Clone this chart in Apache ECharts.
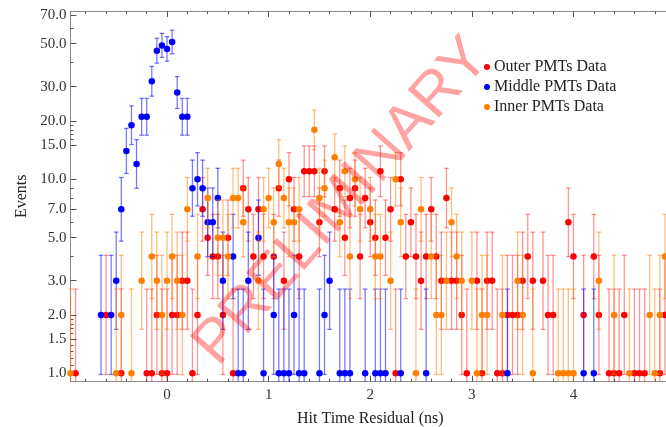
<!DOCTYPE html>
<html>
<head>
<meta charset="utf-8">
<script src="https://cdn.jsdelivr.net/npm/echarts@6.0.0/dist/echarts.min.js"></script>
<style>
  html, body { margin: 0; padding: 0; background: #ffffff; }
  #chart { width: 666px; height: 427px; }
</style>
</head>
<body>
<div id="chart"></div>
<script>
// Hit time residual histograms, [time (ns), events] per 0.05 ns bin
const outerData = [
  [-0.90,1],[-0.60,2],[-0.45,1],[-0.20,1],[-0.15,1],[-0.10,2],[-0.05,1],[0.00,1],
  [0.05,2],[0.10,2],[0.15,3],[0.20,3],[0.25,1],[0.30,2],[0.35,7],[0.40,5],[0.45,4],
  [0.50,4],[0.55,2],[0.60,5],[0.65,1],[0.75,9],[0.80,7],[0.85,4],[0.90,7],[0.95,4],
  [1.05,4],[1.10,9],[1.15,3],[1.20,10],[1.25,7],[1.30,4],[1.35,11],[1.40,11],[1.45,11],
  [1.50,6],[1.55,11],[1.65,7],[1.70,9],[1.75,5],[1.80,8],[1.85,9],[1.90,4],[1.95,8],
  [2.00,6],[2.05,5],[2.10,11],[2.15,5],[2.20,7],[2.25,1],[2.30,10],[2.35,4],[2.40,6],
  [2.45,4],[2.50,3],[2.55,4],[2.60,7],[2.65,4],[2.70,3],[2.75,8],[2.80,3],[2.85,3],
  [2.90,2],[2.95,1],[3.05,3],[3.10,1],[3.15,3],[3.20,3],[3.25,1],[3.30,1],[3.35,2],
  [3.40,2],[3.45,2],[3.50,3],[3.55,4],[3.60,3],[3.70,3],[3.75,2],[3.80,2],[3.95,6],
  [4.00,4],[4.10,2],[4.20,4],[4.25,2],[4.35,1],[4.40,1],[4.45,1],[4.50,2],[4.60,1],
  [4.65,1],[4.70,1],[4.85,1],[4.90,2]
];
const middleData = [
  [-0.65,2],[-0.55,2],[-0.50,3],[-0.45,7],[-0.40,14],[-0.35,19],[-0.30,12],[-0.25,21],
  [-0.20,21],[-0.15,32],[-0.10,46],[-0.05,49],[0.00,47],[0.05,51],[0.10,28],[0.15,21],
  [0.20,21],[0.25,9],[0.30,10],[0.35,9],[0.40,6],[0.45,6],[0.50,8],[0.55,3],[0.65,4],
  [0.70,1],[0.75,1],[0.80,3],[0.90,5],[0.95,1],[1.05,2],[1.10,1],[1.15,1],[1.20,1],
  [1.25,2],[1.30,1],[1.35,1],[1.50,1],[1.55,2],[1.60,3],[1.70,1],[1.75,1],[1.80,1],
  [1.95,1],[2.05,1],[2.10,1],[2.15,1],[2.30,1],[2.55,1],[3.35,1],[4.10,1],[4.20,1]
];
const innerData = [
  [-0.95,1],[-0.50,1],[-0.45,2],[-0.35,1],[-0.25,3],[-0.15,4],[-0.10,3],[-0.05,2],
  [0.00,3],[0.05,4],[0.10,3],[0.15,2],[0.20,7],[0.30,4],[0.40,8],[0.50,5],[0.55,5],
  [0.60,4],[0.65,8],[0.70,8],[0.75,6],[0.90,3],[0.95,7],[1.00,8],[1.05,6],[1.10,12],
  [1.15,8],[1.20,6],[1.25,6],[1.30,7],[1.45,18],[1.50,8],[1.55,9],[1.65,13],[1.70,6],
  [1.75,11],[1.80,4],[1.85,10],[1.90,7],[2.00,7],[2.05,4],[2.10,4],[2.20,3],[2.25,10],
  [2.30,6],[2.45,1],[2.50,7],[2.60,4],[2.65,2],[2.70,2],[2.75,3],[2.80,6],[2.85,4],
  [2.90,3],[3.00,3],[3.05,1],[3.10,2],[3.15,2],[3.30,2],[3.45,3],[3.50,2],[3.60,1],
  [3.85,1],[3.90,1],[3.95,1],[4.00,1],[4.25,3],[4.40,2],[4.55,1],[4.75,2],[4.80,1],
  [4.85,2],[4.90,4]
];

const seriesNames = ['Outer PMTs Data', 'Middle PMTs Data', 'Inner PMTs Data'];
const xLabelTicks = [0, 1, 2, 3, 4];
const xMinorTicks = [-0.8,-0.6,-0.4,-0.2,0.2,0.4,0.6,0.8,1.2,1.4,1.6,1.8,2.2,2.4,2.6,2.8,
                     3.2,3.4,3.6,3.8,4.2,4.4,4.6,4.8];
const yLabelTicks = [1, 1.5, 2, 3, 5, 7, 10, 15, 20, 30, 50, 70];
const yMinorTicks = [1.1,1.2,1.3,1.4,1.6,1.7,1.8,1.9,4,6,8,9,16,17,18,19,40,60];

const X_MIN = -0.95, X_MAX = 4.95;
const Y_MIN = 0.905, Y_MAX = 73.7;

const SERIF = '"Liberation Serif", "DejaVu Serif", serif';
const FRAME = '#8c8c8c';

const dotColors = ['#ff0000', '#0000ff', '#ff8000'];
const barColors = ['rgba(255,0,0,0.42)', 'rgba(0,0,255,0.52)', 'rgba(255,128,0,0.5)'];

// counting error shown as a band of ±1/sqrt(N) in ln(N)
function withErrors(data) {
  return data.map(function (d) {
    const s = 1 / Math.sqrt(d[1]);
    return [d[0], d[1] * Math.exp(-s), d[1] * Math.exp(s)];
  });
}

function errorBarRenderer(color) {
  return function (params, api) {
    const x = api.value(0);
    const lo = api.value(1);
    const hi = api.value(2);
    const clipped = lo < Y_MIN;
    const pLo = api.coord([x, clipped ? Y_MIN : lo]);
    const pHi = api.coord([x, Math.min(hi, Y_MAX)]);
    const cap = 2.3;
    const style = { stroke: color, lineWidth: 1.3, fill: null };
    const children = [
      { type: 'line', shape: { x1: pLo[0], y1: pLo[1], x2: pHi[0], y2: pHi[1] }, style: style },
      { type: 'line', shape: { x1: pHi[0] - cap, y1: pHi[1], x2: pHi[0] + cap, y2: pHi[1] }, style: style }
    ];
    if (!clipped) {
      children.push({ type: 'line', shape: { x1: pLo[0] - cap, y1: pLo[1], x2: pLo[0] + cap, y2: pLo[1] }, style: style });
    }
    return { type: 'group', children: children };
  };
}

const datasets = [outerData, middleData, innerData];
const series = [];
datasets.forEach(function (data, i) {
  series.push({
    name: seriesNames[i] + ' error',
    type: 'custom',
    xAxisIndex: 0,
    yAxisIndex: 0,
    renderItem: errorBarRenderer(barColors[i]),
    encode: { x: 0, y: [1, 2] },
    data: withErrors(data),
    silent: true,
    z: 2 + i * 2
  });
  series.push({
    name: seriesNames[i],
    type: 'scatter',
    xAxisIndex: 0,
    yAxisIndex: 0,
    symbol: 'circle',
    symbolSize: 6.5,
    itemStyle: { color: dotColors[i], opacity: 1 },
    data: data,
    z: 3 + i * 2
  });
});

function xAxisDef(position, ticks, len, labels, line) {
  return {
    type: 'value', position: position, min: X_MIN, max: X_MAX,
    axisLine: { show: line, onZero: false, lineStyle: { color: FRAME, width: 1 } },
    axisTick: { show: true, inside: true, length: len, customValues: ticks, lineStyle: { color: '#555', width: 1 } },
    axisLabel: labels ? { show: true, customValues: xLabelTicks, margin: 6, color: '#333',
                          fontFamily: SERIF, fontSize: 15, formatter: function (v) { return String(v); } }
                      : { show: false },
    splitLine: { show: false }
  };
}

function yAxisDef(ticks, len, labels, line) {
  return {
    type: 'log', position: 'left', min: Y_MIN, max: Y_MAX, logBase: 10,
    axisLine: { show: line, onZero: false, lineStyle: { color: FRAME, width: 1 } },
    axisTick: { show: true, inside: true, length: len, customValues: ticks, lineStyle: { color: '#555', width: 1 } },
    axisLabel: labels ? { show: true, customValues: yLabelTicks, margin: 4, color: '#333',
                          fontFamily: SERIF, fontSize: 15, formatter: function (v) { return Number(v).toFixed(1); } }
                      : { show: false },
    splitLine: { show: false },
    minorTick: { show: false },
    name: labels ? 'Events' : '',
    nameLocation: 'middle',
    nameGap: 32,
    nameTextStyle: { fontFamily: SERIF, fontSize: 16, color: '#222' }
  };
}

const xAxes = [
  xAxisDef('bottom', xLabelTicks, 6, true, true),
  xAxisDef('bottom', xMinorTicks, 3, false, false),
  xAxisDef('top', xLabelTicks, 6, false, true),
  xAxisDef('top', xMinorTicks, 3, false, false)
];
xAxes[0].name = 'Hit Time Residual (ns)';
xAxes[0].nameLocation = 'middle';
xAxes[0].nameGap = 29;
xAxes[0].nameTextStyle = { fontFamily: SERIF, fontSize: 16, color: '#222' };

const chart = echarts.init(document.getElementById('chart'), null, { renderer: 'canvas' });
chart.setOption({
  animation: false,
  backgroundColor: '#ffffff',
  grid: { left: 70.5, right: -4, top: 11, bottom: 45.3, containLabel: false, outerBoundsMode: 'none' },
  xAxis: xAxes,
  yAxis: [yAxisDef(yLabelTicks, 6, true, true), yAxisDef(yMinorTicks, 3, false, false)],
  legend: {
    orient: 'vertical',
    left: 479,
    top: 54,
    itemWidth: 6,
    itemHeight: 6,
    itemGap: 4,
    icon: 'circle',
    data: seriesNames,
    textStyle: { fontFamily: SERIF, fontSize: 16, color: '#222', lineHeight: 16, padding: [0, 0, 0, -1] }
  },
  graphic: [{
    type: 'text',
    x: 342,
    y: 202,
    rotation: 48.5 * Math.PI / 180,
    silent: true,
    z: 100,
    style: {
      text: 'PRELIMINARY',
      font: '61px "Liberation Sans", Arial, sans-serif',
      fill: 'rgba(255,0,0,0.36)',
      align: 'center',
      verticalAlign: 'middle'
    }
  }],
  series: series
});
</script>
</body>
</html>
